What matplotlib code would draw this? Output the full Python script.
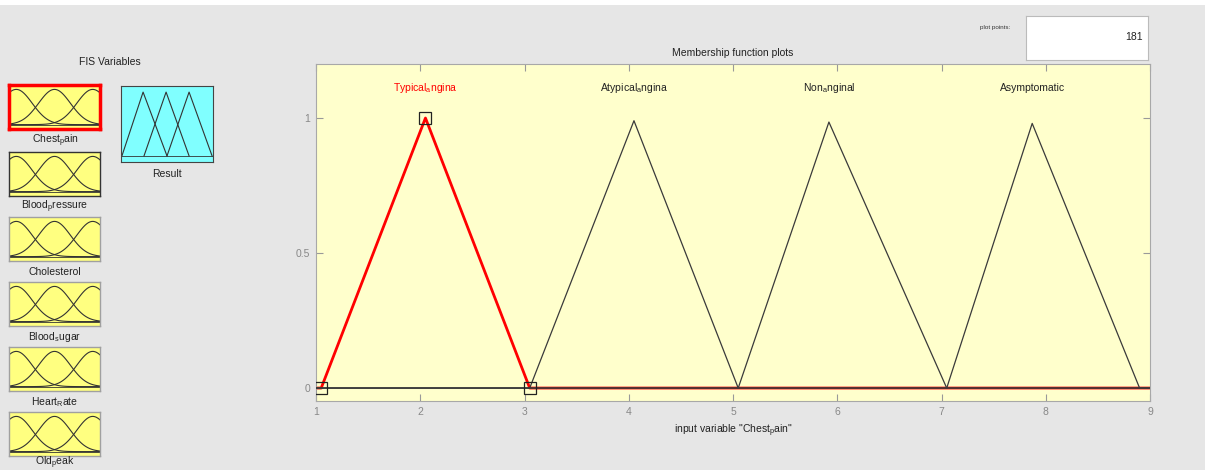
import numpy as np
import matplotlib
matplotlib.use("Agg")
import matplotlib.pyplot as plt
from matplotlib.patches import Rectangle

plt.rcParams['font.family'] = ['Liberation Sans', 'DejaVu Sans']
plt.rcParams['mathtext.fontset'] = 'custom'
plt.rcParams['mathtext.rm'] = 'Liberation Sans'

# membership functions of input "Chest_pain" (triangles: left foot, peak, right foot)
mf_labels = [r"Typical$_\mathregular{a}$ngina", r"Atypical$_\mathregular{a}$ngina",
             r"Non$_\mathregular{a}$nginal", "Asymptomatic"]
mf_left = [1.05, 3.05, 5.05, 7.05]
mf_peak = [2.05, 4.05, 5.92, 7.87]
mf_right = [3.05, 5.05, 7.05, 8.90]
mf_height = [1.0, 0.99, 0.985, 0.98]
x_range = [1, 9]
selected = 0

# FIS variables panel
var_names = [r"Chest$_\mathregular{p}$ain", r"Blood$_\mathregular{p}$ressure", "Cholesterol",
             r"Blood$_\mathregular{s}$ugar", r"Heart$_\mathregular{R}$ate", r"Old$_\mathregular{p}$eak"]
icon_centers = [0.08, 0.5, 0.92]
icon_sigma = 0.175
result_tris = [[0.01, 0.24, 0.50], [0.25, 0.49, 0.74], [0.50, 0.74, 0.99]]

W, H = 1205, 470
fig = plt.figure(figsize=(W / 100, H / 100), dpi=100)
fig.patch.set_facecolor('#e6e6e6')


def px_axes(x0, y0, x1, y1):
    return fig.add_axes([x0 / W, 1 - y1 / H, (x1 - x0) / W, (y1 - y0) / H])


def fig_text(x, y, s, **kw):
    fig.text(x / W, 1 - y / H, s, **kw)


# white strip along the top
fig.patches.append(Rectangle((0, 1 - 5 / H), 1, 5 / H, transform=fig.transFigure,
                             facecolor='white', edgecolor='none'))

# ---- main membership function plot ----
ax = px_axes(316, 64, 1150, 401)
ax.set_facecolor('#ffffcc')
for i in range(len(mf_labels)):
    xv = [x_range[0], mf_left[i], mf_peak[i], mf_right[i], x_range[1]]
    yv = [0, 0, mf_height[i], 0, 0]
    if i == selected:
        ax.plot(xv, yv, color='red', lw=2, zorder=2)
    else:
        ax.plot(xv, yv, color='#3a3a3a', lw=0.9, zorder=3)
    ax.text(mf_peak[i], 1.11, mf_labels[i], ha='center', va='center', fontsize=7.5,
            color='red' if i == selected else '#222222')
ax.plot([mf_left[selected], mf_peak[selected], mf_right[selected]],
        [0, mf_height[selected], 0], ls='none', marker='s', ms=8.5,
        mfc='none', mec='#222222', mew=0.9, zorder=4)

ax.set_xlim(x_range)
ax.set_ylim(-0.048, 1.2)
ax.set_xticks(range(1, 10))
ax.set_yticks([0, 0.5, 1])
ax.set_yticklabels(['0', '0.5', '1'])
ax.tick_params(direction='in', length=5, width=0.8, color='#999999', labelcolor='#888888',
               labelsize=7.5, top=True, right=True, pad=4)
for sp in ax.spines.values():
    sp.set_color('#a8a8a8')
ax.set_title("Membership function plots", fontsize=7.5, color='#222222', pad=6)
ax.set_xlabel('input variable "Chest$_\\mathregular{p}$ain"', fontsize=7.5,
              color='#222222', labelpad=4)

# ---- plot points box ----
fig_text(995, 28, "plot points:", fontsize=4.5, color='#333333', ha='center', va='center')
bx = px_axes(1026, 16, 1148, 60)
bx.set_facecolor('white')
bx.set_xticks([])
bx.set_yticks([])
for sp in bx.spines.values():
    sp.set_color('#bbbbbb')
bx.text(0.96, 0.52, "181", transform=bx.transAxes, ha='right', va='center',
        fontsize=7.5, color='#222222')

# ---- FIS Variables panel ----
fig_text(110, 62, "FIS Variables", fontsize=7.5, color='#222222', ha='center', va='center')
box_tops = [85, 152, 217, 282, 347, 412]
label_y = [141, 207, 272, 337, 402, 463]
gx = np.linspace(0, 1, 100)
for k, name in enumerate(var_names):
    ia = px_axes(9, box_tops[k], 100, box_tops[k] + 44)
    ia.set_facecolor('#ffff80')
    for c in icon_centers:
        ia.plot(gx, 0.1 + 0.8 * np.exp(-(gx - c) ** 2 / (2 * icon_sigma ** 2)),
                color='#333333', lw=0.8)
    ia.axhline(0.1, color='#333333', lw=0.6)
    ia.set_xlim(0, 1)
    ia.set_ylim(0, 1)
    ia.set_xticks([])
    ia.set_yticks([])
    if k == 0:
        ec, lw = 'red', 2.5
    elif k == 1:
        ec, lw = '#333333', 1.0
    else:
        ec, lw = '#a0a0a0', 1.0
    for sp in ia.spines.values():
        sp.set_color(ec)
        sp.set_linewidth(lw)
    fig_text(55, label_y[k], name, fontsize=7.5, color='#222222', ha='center', va='center')

ra = px_axes(121, 86, 213, 162)
ra.set_facecolor('#80ffff')
for t in result_tris:
    ra.plot(t, [0.08, 0.92, 0.08], color='#333333', lw=0.8)
ra.axhline(0.08, color='#333333', lw=0.6)
ra.set_xlim(0, 1)
ra.set_ylim(0, 1)
ra.set_xticks([])
ra.set_yticks([])
for sp in ra.spines.values():
    sp.set_color('#444444')
fig_text(167, 174, "Result", fontsize=7.5, color='#222222', ha='center', va='center')

fig.savefig("out.png", dpi=100, facecolor=fig.get_facecolor())
